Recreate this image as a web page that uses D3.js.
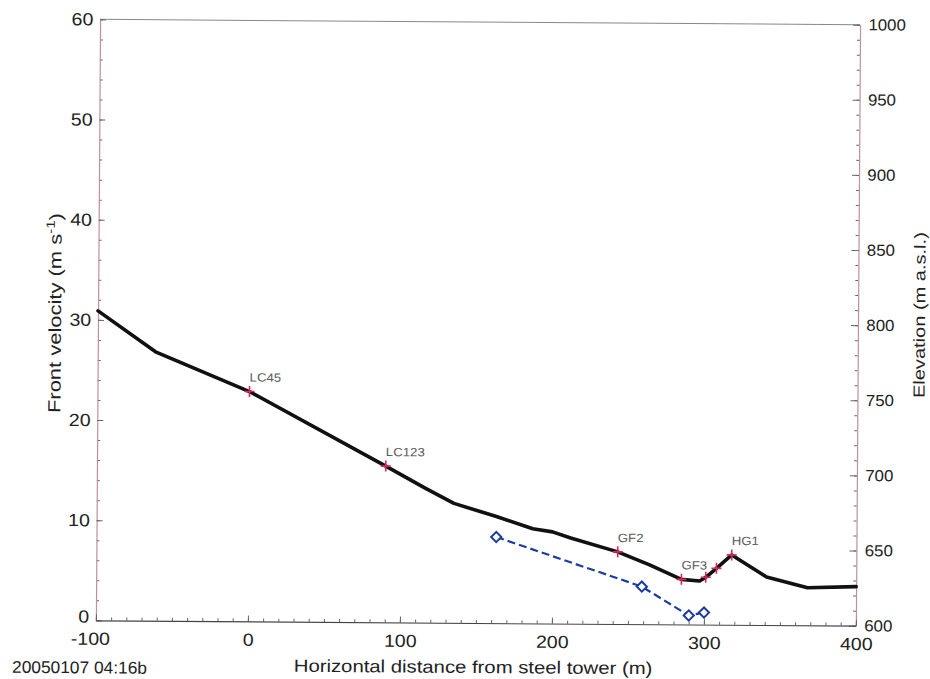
<!DOCTYPE html>
<html>
<head>
<meta charset="utf-8">
<script src="https://cdn.jsdelivr.net/npm/d3@7"></script>
<style>
  body { margin: 0; background: #fff; }
  svg text { font-family: "Liberation Sans", Arial, Helvetica, sans-serif; }
</style>
</head>
<body>
<svg id="chart" width="930" height="679"></svg>
<script>
// Ground profile along the avalanche path (distance from steel tower, elevation m a.s.l.)
const profileDist = [-100, -62, 0, 90, 116, 135, 163, 187, 200, 212, 243, 264, 285, 297, 301, 308, 318, 341, 368, 400];
const profileElev = [806, 779, 753, 704, 689.5, 679.5, 671, 663, 661, 657, 648, 639.5, 630, 629, 631.5, 637.5, 646.5, 632, 625, 626];

// Measurement stations on the profile
const stationNames = ["LC45", "LC123", "GF2", "GF3", "", "", "HG1"];
const stationDist  = [0, 90, 243, 285, 301, 308, 318];
const stationElev  = [753, 704, 648, 630, 631.5, 637.5, 646.5];

// Front velocity estimates
const frontDist = [163, 259, 290, 300];
const frontVel  = [8.6, 3.75, 0.9, 1.2];

// Axis ticks
const velTicks  = [0, 10, 20, 30, 40, 50, 60];
const elevTicks = [600, 650, 700, 750, 800, 850, 900, 950, 1000];
const distTicks = [-100, 0, 100, 200, 300, 400];
const velMinor  = d3.range(0, 61, 2);
const elevMinor = d3.range(600, 1001, 10);
const distMinor = d3.range(-100, 401, 10);

const L = 98, R = 858, T = 22, B = 623;
const x  = d3.scaleLinear().domain([-100, 400]).range([L, R]);
const yV = d3.scaleLinear().domain([0, 60]).range([B, T]);
const yE = d3.scaleLinear().domain([600, 1000]).range([B, T]);

const pink = "#c0909c";
const tickCol = "#666";
const txtCol = "#222";
const FONT = '"Liberation Sans", Arial, Helvetica, sans-serif';

const svg = d3.select("#chart");
svg.append("rect").attr("width", 930).attr("height", 679).attr("fill", "#fff");
const g = svg.append("g").attr("transform", "rotate(0.4 476 321)");

// frame top
g.append("line").attr("x1", L).attr("x2", R).attr("y1", T).attr("y2", T)
  .attr("stroke", "#888").attr("stroke-width", 1);

function styleAxis(sel, size, k) {
  sel.attr("font-family", FONT).attr("font-size", size);
  sel.selectAll(".tick line").attr("stroke", tickCol);
  sel.selectAll(".tick text").attr("fill", txtCol).attr("transform", `scale(${k},1)`);
}

// left axis (velocity)
g.append("g").attr("transform", `translate(${L},0)`)
  .call(d3.axisLeft(yV).tickValues(velMinor).tickSizeInner(-3).tickSizeOuter(0).tickFormat(""))
  .call(a => a.select(".domain").remove())
  .call(a => a.selectAll(".tick line").attr("stroke", tickCol));
g.append("g").attr("transform", `translate(${L},0)`)
  .call(d3.axisLeft(yV).tickValues(velTicks).tickSizeInner(-6).tickSizeOuter(0).tickPadding(6))
  .call(a => a.select(".domain").attr("stroke", pink).attr("stroke-width", 1.2))
  .call(a => styleAxis(a, 17.5, 1.12))
  .call(a => a.selectAll(".tick text").filter(d => d === 0).attr("dy", "0.1em"));

// right axis (elevation)
g.append("g").attr("transform", `translate(${R},0)`)
  .call(d3.axisRight(yE).tickValues(elevMinor).tickSizeInner(-3).tickSizeOuter(0).tickFormat(""))
  .call(a => a.select(".domain").remove())
  .call(a => a.selectAll(".tick line").attr("stroke", tickCol));
g.append("g").attr("transform", `translate(${R},0)`)
  .call(d3.axisRight(yE).tickValues(elevTicks).tickSizeInner(-7).tickSizeOuter(0).tickPadding(8)
        .tickFormat(d3.format("d")))
  .call(a => a.select(".domain").attr("stroke", pink).attr("stroke-width", 1.2))
  .call(a => styleAxis(a, 16, 1.05));

// bottom axis (distance)
g.append("g").attr("transform", `translate(0,${B})`)
  .call(d3.axisBottom(x).tickValues(distMinor).tickSizeInner(-3).tickSizeOuter(0).tickFormat(""))
  .call(a => a.select(".domain").remove())
  .call(a => a.selectAll(".tick line").attr("stroke", tickCol));
g.append("g").attr("transform", `translate(0,${B})`)
  .call(d3.axisBottom(x).tickValues(distTicks).tickSizeInner(-6).tickSizeOuter(0).tickPadding(12)
        .tickFormat(d => String(d)))
  .call(a => a.select(".domain").attr("stroke", "#444").attr("stroke-width", 1.2))
  .call(a => styleAxis(a, 17.5, 1.12))
  .call(a => a.selectAll(".tick text").filter(d => d < 0).attr("dx", "-0.3em"));

// ground profile
const line = d3.line().x(i => x(profileDist[i])).y(i => yE(profileElev[i]));
g.append("path")
  .attr("d", line(d3.range(profileDist.length)))
  .attr("fill", "none").attr("stroke", "#111").attr("stroke-width", 3.6)
  .attr("stroke-linejoin", "round").attr("stroke-linecap", "round");

// station markers and names
const st = g.append("g").selectAll("g").data(d3.range(stationDist.length)).join("g")
  .attr("transform", i => `translate(${x(stationDist[i])},${yE(stationElev[i])})`);
st.append("path").attr("d", "M-5,0H5M0,-5.5V5.5")
  .attr("stroke", "#d4285a").attr("stroke-width", 1.6).attr("fill", "none");
st.append("text")
  .attr("transform", "translate(0,-10) scale(1.1,1)")
  .attr("font-size", 12).attr("fill", "#5a5a5a")
  .text(i => stationNames[i]);

// front velocity
const vline = d3.line().x(i => x(frontDist[i])).y(i => yV(frontVel[i]));
g.append("path")
  .attr("d", vline(d3.range(frontDist.length)))
  .attr("fill", "none").attr("stroke", "#1c3ca0").attr("stroke-width", 2.2)
  .attr("stroke-dasharray", "8,4");
g.append("g").selectAll("path").data(d3.range(frontDist.length)).join("path")
  .attr("transform", i => `translate(${x(frontDist[i])},${yV(frontVel[i])}) rotate(45)`)
  .attr("d", d3.symbol(d3.symbolSquare, 52)())
  .attr("fill", "#fff").attr("stroke", "#1c3ca0").attr("stroke-width", 2);

// titles, stretched horizontally to their measured widths
function title(txt, tx, ty, rot, size, target, anchor) {
  const t = g.append("text").attr("font-size", size).attr("fill", txtCol)
    .attr("text-anchor", anchor || "middle");
  txt(t);
  const w = t.node().getBBox().width;
  const k = target / w;
  t.attr("transform", `translate(${tx},${ty}) rotate(${rot}) scale(${k},1)`);
  return t;
}

title(t => t.text("Horizontal distance from steel tower (m)"), 475.5, 673, 0, 17.5, 359);
title(t => {
  t.append("tspan").text("Front velocity (m s");
  t.append("tspan").attr("font-size", 12).attr("dy", -7).text("-1");
  t.append("tspan").attr("dy", 7).text(")");
}, 61, 316, -90, 17.5, 200);
title(t => t.text("Elevation (m a.s.l.)"), 925, 312, -90, 16, 166);
title(t => t.text("20050107 04:16b"), 14.5, 676, 0, 17, 135, "start");
</script>
</body>
</html>
